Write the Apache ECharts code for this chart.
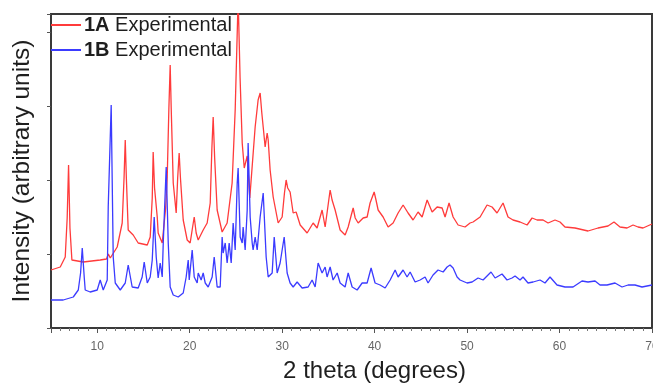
<!DOCTYPE html>
<html>
<head>
<meta charset="utf-8">
<script src="https://cdn.jsdelivr.net/npm/echarts@6/dist/echarts.min.js"></script>
<style>
html,body{margin:0;padding:0;background:#fff;}
#chart{width:653px;height:383px;}
</style>
</head>
<body>
<div id="chart"></div>
<script>
// 2 theta (degrees), intensity (arbitrary units)
const series1A = [
[5.0,58],[6.0,61],[6.54,71],[6.75,110],[6.90,163],[7.05,100],[7.26,68],[8.49,66],[10.32,68],[11.0,69],[11.2,74],[11.41,70],
[12.16,81],[12.70,105],[12.9,150],[13.03,188],[13.15,150],[13.35,98],[13.89,93],[14.43,85],[15.41,83],[15.73,91],[15.95,130],
[16.05,176],[16.2,140],[16.49,111],[16.59,95],[17.03,85],[17.4,120],[17.57,151],[17.75,220],[17.89,263],[18.0,220],[18.22,145],
[18.54,115],[18.7,150],[18.86,175],[19.0,150],[19.30,108],[19.73,88],[20.05,85],[20.3,100],[20.49,111],[20.7,95],[20.92,88],
[21.46,98],[21.89,105],[22.22,125],[22.4,180],[22.54,211],[22.7,170],[22.97,118],[23.51,96],[24.05,105],[24.59,145],[24.92,218],
[25.24,330],[25.45,250],[25.68,185],[25.9,160],[26.22,172],[26.5,130],[27.08,201],[27.4,228],[27.62,235],[27.8,215],[27.95,201],
[28.16,181],[28.38,195],[28.49,188],[28.70,158],[29.03,131],[29.57,105],[30.0,111],[30.25,135],[30.43,148],[30.6,140],[30.86,136],
[31.19,115],[31.51,116],[31.95,103],[32.70,95],[33.35,105],[33.78,100],[34.32,118],[34.65,101],[35.0,125],[35.19,138],[35.4,128],
[35.73,118],[36.27,98],[36.81,93],[37.14,101],[37.45,112],[37.68,120],[37.9,110],[38.22,105],[38.76,110],[39.19,111],[39.51,125],
[39.95,136],[40.15,128],[40.38,118],[40.92,111],[41.46,101],[42.0,105],[42.54,115],[43.08,123],[43.62,115],[44.16,108],[44.70,116],
[45.14,111],[45.68,128],[46.22,116],[46.76,121],[47.30,120],[47.62,111],[48.05,125],[48.49,111],[49.03,103],[49.78,101],[50.32,105],
[50.65,106],[51.41,111],[52.16,123],[52.70,121],[53.24,115],[53.89,125],[54.43,111],[54.97,108],[55.73,106],[56.49,103],[57.03,110],
[57.57,108],[58.22,108],[58.76,105],[59.51,108],[60.05,106],[60.59,101],[61.68,100],[63.08,97],[64.16,100],[65.24,102],[65.89,106],
[66.54,101],[67.30,100],[67.95,103],[68.49,101],[69.03,100],[70.0,104]
];
const series1B = [
[5.0,28],[6.32,28],[7.41,31],[7.95,38],[8.2,55],[8.38,80],[8.6,50],[8.70,38],[9.24,36],[10.0,38],[10.32,48],[10.65,38],[11.08,48],
[11.19,121],[11.51,223],[11.73,71],[11.95,45],[12.49,38],[13.03,45],[13.35,63],[13.78,41],[14.43,40],[14.86,51],[15.08,66],[15.41,45],
[15.73,51],[15.95,68],[16.16,111],[16.38,71],[16.59,50],[16.81,65],[17.03,51],[17.14,85],[17.46,161],[17.68,85],[17.89,41],[18.22,33],
[18.76,31],[19.30,35],[19.62,51],[19.84,68],[19.95,48],[20.27,78],[20.49,51],[20.81,45],[20.92,55],[21.24,48],[21.46,55],[21.68,45],
[22.0,41],[22.43,51],[22.65,71],[22.97,41],[23.30,41],[23.51,91],[23.62,75],[23.84,85],[24.05,65],[24.27,85],[24.49,65],[24.70,105],
[24.92,78],[25.14,145],[25.24,160],[25.46,91],[25.68,85],[25.78,101],[26.0,78],[26.22,118],[26.32,185],[26.54,111],[26.76,85],
[26.86,78],[27.08,91],[27.30,78],[27.62,111],[27.95,135],[28.27,71],[28.49,51],[28.92,55],[29.14,91],[29.46,55],[29.78,65],[30.22,91],
[30.54,55],[30.86,45],[31.19,41],[31.62,46],[32.16,40],[32.81,41],[33.24,48],[33.57,41],[33.89,65],[34.32,55],[34.65,61],[34.86,51],
[35.19,61],[35.51,48],[35.95,55],[36.27,45],[36.81,41],[37.14,55],[37.57,41],[38.11,38],[38.65,45],[39.19,45],[39.62,60],[40.05,45],
[40.59,43],[41.14,40],[41.68,48],[42.22,58],[42.54,51],[43.08,58],[43.51,51],[43.84,56],[44.38,46],[44.92,48],[45.46,51],[45.78,45],
[46.32,53],[46.86,58],[47.41,56],[47.84,61],[48.16,63],[48.49,60],[48.92,51],[49.24,48],[50.0,45],[50.54,46],[51.19,50],[51.73,48],
[52.59,56],[53.03,50],[53.78,54],[54.32,48],[54.86,50],[55.19,52],[55.73,48],[56.05,51],[56.59,45],[57.14,46],[57.89,48],[58.43,45],
[58.97,51],[59.73,43],[60.59,41],[61.46,41],[62.43,47],[63.08,46],[63.84,47],[64.38,43],[65.14,43],[66.0,45],[66.76,41],[67.41,43],
[68.16,43],[68.92,41],[70.0,43]
];
const legendNames = ['1A Experimental', '1B Experimental'];
const xTitle = '2 theta (degrees)';
const yTitle = 'Intensity (arbitrary units)';

const chart = echarts.init(document.getElementById('chart'), null, {renderer: 'canvas'});
const font = 'Liberation Sans, Arial, sans-serif';
chart.setOption({
  animation: false,
  backgroundColor: '#fff',
  textStyle: {fontFamily: font},
  grid: {left: 51, right: 1, top: 14, bottom: 55, show: true, borderColor: '#3a3a3a', borderWidth: 2,
         containLabel: false, outerBoundsMode: 'none'},
  legend: {
    orient: 'vertical', left: 51, top: 15, itemGap: 5, itemWidth: 30, itemHeight: 2, icon: 'rect',
    padding: 0,
    data: legendNames,
    formatter: function (n) { const p = n.split(' '); return '{b|' + p[0] + '} ' + p.slice(1).join(' '); },
    textStyle: {fontSize: 20, color: '#1e1e1e', fontFamily: font, padding: [0, 0, 0, -2],
                rich: {b: {fontWeight: 'bold', fontSize: 20, color: '#1e1e1e', fontFamily: font}}}
  },
  xAxis: {
    type: 'value', min: 5, max: 70, splitNumber: 6,
    name: xTitle, nameLocation: 'middle', nameGap: 31,
    nameTextStyle: {fontSize: 24, color: '#1e1e1e', padding: [0, 0, 0, 46]},
    axisLine: {show: true, lineStyle: {color: '#3a3a3a', width: 2}},
    axisTick: {show: true, length: 5, lineStyle: {color: '#555'}},
    minorTick: {show: true, splitNumber: 10, length: 3, lineStyle: {color: '#777'}},
    axisLabel: {fontSize: 12, color: '#666', margin: 13, formatter: function (v) { return v % 10 === 0 ? String(v) : ''; }},
    splitLine: {show: false}
  },
  yAxis: {
    type: 'value', min: 0, max: 314, interval: 74,
    name: yTitle, nameLocation: 'middle', nameGap: 16,
    nameTextStyle: {fontSize: 24.5, color: '#1e1e1e'},
    axisLine: {show: true, lineStyle: {color: '#3a3a3a', width: 2}},
    axisTick: {show: true, length: 4, lineStyle: {color: '#555'}},
    axisLabel: {show: false},
    splitLine: {show: false}
  },
  series: [
    {name: legendNames[0], type: 'line', data: series1A, showSymbol: false, symbol: 'none', clip: true,
     lineStyle: {color: '#ff3b3b', width: 1.3}, itemStyle: {color: '#ff3b3b'}},
    {name: legendNames[1], type: 'line', data: series1B, showSymbol: false, symbol: 'none', clip: true,
     lineStyle: {color: '#3b3bff', width: 1.3}, itemStyle: {color: '#3b3bff'}}
  ]
});
</script>
</body>
</html>
